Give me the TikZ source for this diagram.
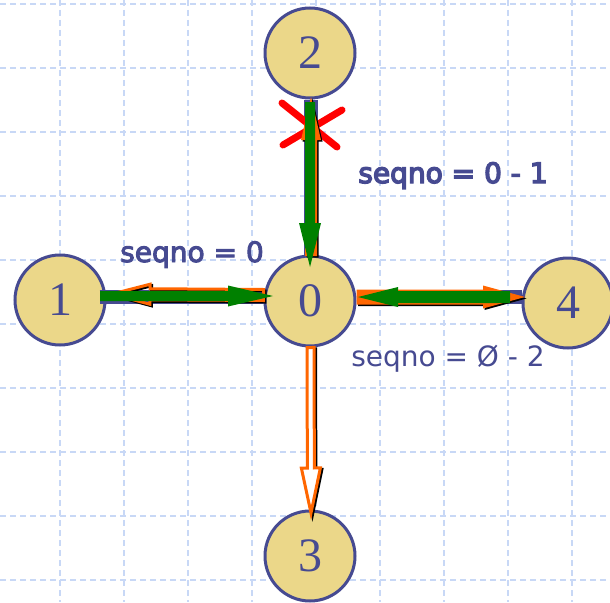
\documentclass[tikz,border=0pt]{standalone}
\usepackage{fontspec}
\usepackage{tikz}
\usetikzlibrary{calc}
\newfontfamily\numfont{Liberation Serif}
\newfontfamily\seqfont{DejaVu Sans}
\newfontfamily\seqfontb[FakeBold=3.5]{DejaVu Sans}
\newfontfamily\seqfontbb[FakeBold=5]{DejaVu Sans}
\definecolor{nodefill}{RGB}{235,215,137}
\definecolor{linkblue}{RGB}{70,74,145}
\definecolor{gridblue}{RGB}{200,216,246}
\definecolor{ackorange}{RGB}{255,102,0}
\definecolor{datagreen}{RGB}{0,128,0}
% block arrow: from, to, shaft half width, head half width, head length
\newcommand{\blockarrow}[6][]{%
  \path (#2) coordinate (ba-s) (#3) coordinate (ba-t);
  \path ($(ba-t)!#6pt!(ba-s)$) coordinate (ba-h);
  \path[#1] ($(ba-s)!#4pt!90:(ba-t)$) -- ($(ba-h)!#4pt!90:(ba-t)$)
    -- ($(ba-h)!#5pt!90:(ba-t)$) -- (ba-t)
    -- ($(ba-h)!#5pt!-90:(ba-t)$) -- ($(ba-h)!#4pt!-90:(ba-t)$)
    -- ($(ba-s)!#4pt!-90:(ba-t)$) -- cycle;}
\newcommand{\shadowarrow}[6][]{%
  \begin{scope}[transform canvas={xshift=1.5pt,yshift=-1.5pt}]
    \blockarrow[#1,black]{#2}{#3}{#4}{#5}{#6}
  \end{scope}
  \blockarrow[#1]{#2}{#3}{#4}{#5}{#6}}

\begin{document}
\begin{tikzpicture}[x=1pt,y=-1pt,
    station/.style={circle,minimum size=90pt,inner sep=0pt,fill=nodefill,
      draw=linkblue,line width=3pt,text=linkblue,
      font=\numfont\fontsize{48}{48}\selectfont},
    link/.style={linkblue,line width=14pt},
    gridline/.style={gridblue,line width=2pt,dash pattern=on 6pt off 4pt},
    cross/.style={red,line width=7pt,line cap=round},
    seqlabel/.style={text=linkblue,anchor=base,inner sep=0pt}]
  \useasboundingbox (0,0) rectangle (610,602);
  \fill[white] (0,0) rectangle (610,602);
  % grid
  \foreach \gx in {60,124,...,572}
    \draw[gridline] (\gx,0) -- (\gx,602);
  \foreach \gy in {4,68,...,580}
    \draw[gridline] (0,\gy) -- (610,\gy);
  % nodes
  \node[station] (n2) at (310,53) {2};
  \node[station] (n0) at (310,301) {0};
  \node[station] (n1) at (60,300) {1};
  \node[station] (n4) at (568,303) {4};
  \node[station] (n3) at (310,556) {3};
  % links
  \draw[link] ([xshift=-7pt,yshift=3pt]n1.east) -- ([yshift=4pt]n0.west);
  \draw[link] ([xshift=.5pt]n2.south) -- ([xshift=.5pt]n0.north);
  \draw[link] ([yshift=4pt]n0.east) -- ([yshift=6pt]n4.west);
  % lost packet
  \draw[cross] (282,103) -- (337,147);
  \draw[cross] (342,110) -- (283,145);
  % acks
  \shadowarrow[draw=ackorange,line width=3pt]
    {[yshift=6pt]n0.west}{[xshift=5.5pt,yshift=6pt]n1.east}{5.5}{10}{38}
  \shadowarrow[fill=ackorange]
    {[xshift=1pt,yshift=-1.5pt]n0.north}{[xshift=1pt,yshift=2.5pt]n2.south}{6}{10}{43}
  \shadowarrow[fill=ackorange]
    {[yshift=4pt]n0.east}{[xshift=3.5pt,yshift=6pt]n4.west}{7.5}{11.5}{42}
  \shadowarrow[draw=ackorange,fill=white,line width=3pt]
    {[xshift=.5pt]n0.south}{[xshift=1pt,yshift=-3.5pt]n3.north}{3.5}{9.5}{45}
  % data
  \blockarrow[fill=datagreen]
    {[xshift=-6.5pt,yshift=4pt]n1.east}{[xshift=9.5pt,yshift=5pt]n0.west}{5}{10.5}{45}
  \blockarrow[fill=datagreen]
    {[yshift=-2.5pt]n2.south}{[yshift=-12.5pt]n0.north}{5}{11}{44}
  \blockarrow[fill=datagreen]
    {[xshift=-11.5pt,yshift=6pt]n4.west}{[xshift=1.5pt,yshift=4pt]n0.east}{6}{10}{40}
  % labels
  \node[seqlabel,font=\seqfontb\fontsize{28}{28}\selectfont] (s10) at (192,262) {seqno = 0};
  \node[seqlabel,font=\seqfontbb\fontsize{28}{28}\selectfont] (s20) at (453,183) {seqno = 0 - 1};
  \node[seqlabel,font=\seqfont\fontsize{28}{28}\selectfont] (s04) at (448,366) {seqno = Ø - 2};
\end{tikzpicture}
\end{document}
